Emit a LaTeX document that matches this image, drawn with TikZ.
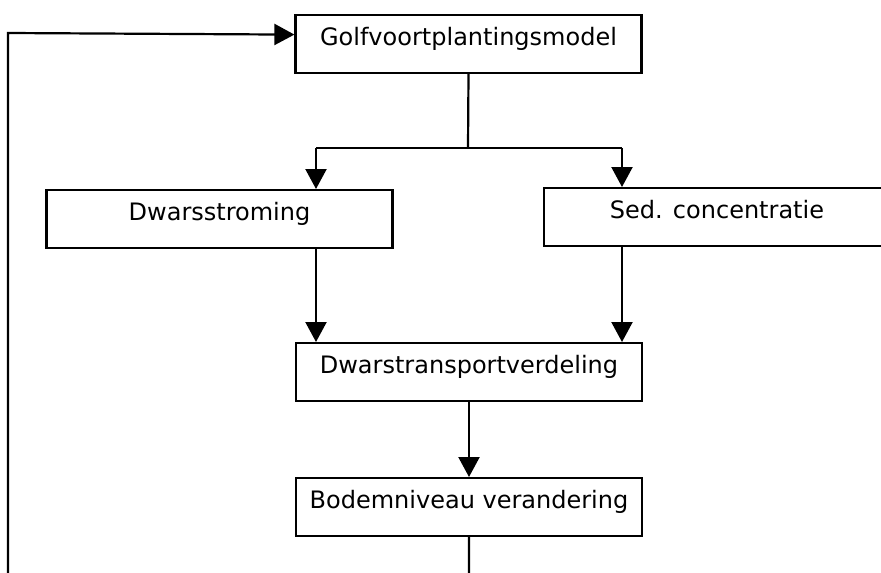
\documentclass[tikz,border=0pt]{standalone}
\usepackage{fontspec}
\setmainfont{DejaVu Sans}
\usetikzlibrary{arrows.meta}

\begin{document}
\begin{tikzpicture}[x=1pt,y=-1pt,line width=2.2pt,
  >={Triangle[length=20pt,width=21pt]},
  blok/.style={draw,rectangle,anchor=north,inner sep=0pt,minimum width=346pt,
               text height=30pt,text depth=28pt,
               font=\fontsize{24}{28}\selectfont}]
\useasboundingbox (0,0) rectangle (881,573);
\clip (0,0) rectangle (881,573);

\node[blok] (golf)  at (468.5,14) {Golfvoortplantingsmodel};
\node[blok] (dwars) at (219.5,189) {Dwarsstroming};
\node[blok] (sed)   at (717,187)  {Sed. concentratie};
\node[blok] (trans) at (469,342)  {Dwarstransportverdeling};
\node[blok] (bodem) at (469,477)  {Bodemniveau verandering};

\coordinate (split) at (468,148);
\coordinate (dl) at (316,148);
\coordinate (dr) at (622,148);
\coordinate (loop) at (8,600);

\draw (golf.south) -- (split);
\draw (dl) -- (dr);
\draw[->] (dl) -- (dl |- dwars.north);
\draw[->] (dr) -- (dr |- sed.north);

\draw[->] (dl |- dwars.south) -- (dl |- trans.north);
\draw[->] (dr |- sed.south) -- (dr |- trans.north);

\draw[->] (trans.south) -- (bodem.north);

% terugkoppeling
\draw[->] (bodem.south) |- (loop) -- (8,33) -- ([yshift=9.5pt]golf.west);

\end{tikzpicture}
\end{document}
